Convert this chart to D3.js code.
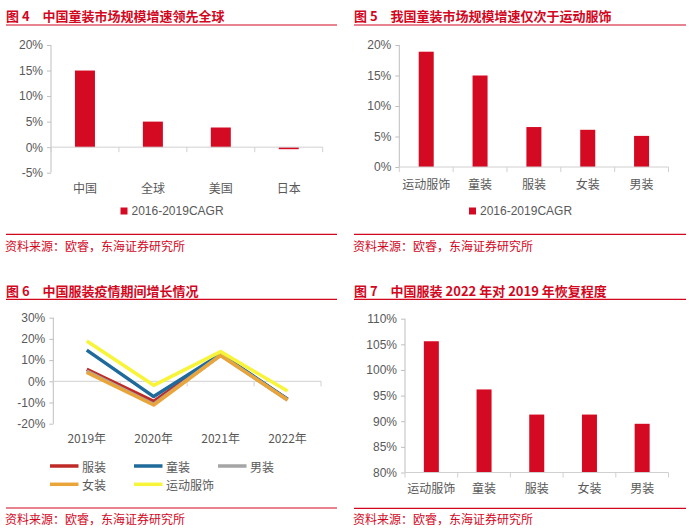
<!DOCTYPE html>
<html><head><meta charset="utf-8">
<script src="https://cdn.jsdelivr.net/npm/d3@7"></script>
<style>
body{margin:0;background:#fff;}
svg{display:block;font-family:"Liberation Sans",Arial,"Noto Sans CJK SC",sans-serif;}
.cjk{font-family:"Noto Sans CJK SC",sans-serif;}
</style></head><body>
<svg id="c" width="699" height="532"></svg>
<script>
// ---------- data ----------
const titles = ["图 4　中国童装市场规模增速领先全球","图 5　我国童装市场规模增速仅次于运动服饰","图 6　中国服装疫情期间增长情况","图 7　中国服装 2022 年对 2019 年恢复程度"];
const sourceText = "资料来源：欧睿，东海证券研究所";

const fig4Categories = ["中国","全球","美国","日本"];
const fig4Values = [15.0, 5.0, 3.85, -0.4];
const fig4Ticks = [-5,0,5,10,15,20];
const fig4Legend = "2016-2019CAGR";

const fig5Categories = ["运动服饰","童装","服装","女装","男装"];
const fig5Values = [18.9, 15.0, 6.55, 6.1, 5.1];
const fig5Ticks = [0,5,10,15,20];
const fig5Legend = "2016-2019CAGR";

const fig6Years = ["2019年","2020年","2021年","2022年"];
const fig6SeriesNames = ["服装","童装","男装","女装","运动服饰"];
const fig6Clothing = [5.6, -9.5, 12.6, -8.6];
const fig6Kids = [14.7, -7.2, 12.8, -8.4];
const fig6Men = [4.8, -10.8, 12.3, -8.8];
const fig6Women = [4.2, -11.2, 12.2, -8.8];
const fig6Sports = [19.0, -1.9, 14.0, -4.6];
const fig6Ticks = [-20,-10,0,10,20,30];

const fig7Categories = ["运动服饰","童装","服装","女装","男装"];
const fig7Values = [105.6, 96.2, 91.3, 91.3, 89.5];
const fig7Ticks = [80,85,90,95,100,105,110];

// ---------- style ----------
const RED = "#D2071E";
const BAR = "#D40A22";
const AXIS = "#BFBFBF";
const TXT = "#595959";
const lineColors = ["#BE2A26","#1E6A9A","#A5A5A5","#E9A53A","#F7F43A"];

const svg = d3.select("#c");

function frame(x0, x1, titleY, lineY, bottomY, srcY, title){
  svg.append("text").attr("class","cjk").attr("x",x0).attr("y",titleY)
    .attr("font-size",13).attr("font-weight",700).attr("fill",RED)
    .attr("dominant-baseline","central").text(title);
  svg.append("line").attr("x1",x0).attr("x2",x1).attr("y1",lineY).attr("y2",lineY)
    .attr("stroke",RED).attr("stroke-width",1.2);
  svg.append("line").attr("x1",x0).attr("x2",x1).attr("y1",bottomY).attr("y2",bottomY)
    .attr("stroke",RED).attr("stroke-width",1.2);
  svg.append("text").attr("class","cjk").attr("x",x0-1).attr("y",srcY)
    .attr("font-size",12).attr("fill",RED).attr("dominant-baseline","central").text(sourceText);
}

function yAxis(g, y, ticks, xAxis, fmt){
  const ax = d3.axisLeft(y).tickValues(ticks).tickSize(4).tickPadding(4).tickFormat(fmt);
  const a = g.append("g").attr("transform",`translate(${xAxis},0)`).call(ax);
  a.select(".domain").attr("stroke",AXIS).attr("d",`M0,${y(ticks[ticks.length-1])}V${y(ticks[0])}`);
  a.selectAll(".tick line").attr("stroke",AXIS);
  a.selectAll(".tick text").attr("fill",TXT).attr("font-size",12)
    .attr("font-family","'Liberation Sans',Arial,sans-serif");
}

function xAxisBand(g, x, yPos, tickLen){
  const dom = x.domain();
  const edges = dom.map(d=>x(d)).concat([x.range()[1]]);
  g.append("line").attr("x1",x.range()[0]).attr("x2",x.range()[1]).attr("y1",yPos).attr("y2",yPos)
    .attr("stroke","#D0D0D0").attr("stroke-width",1);
  g.selectAll(null).data(edges).enter().append("line")
    .attr("x1",d=>d).attr("x2",d=>d).attr("y1",yPos).attr("y2",yPos+tickLen)
    .attr("stroke","#D0D0D0");
}

function catLabels(g, x, labelY, cats){
  g.selectAll(null).data(cats).enter().append("text").attr("class","cjk")
    .attr("x",d=>x(d)+x.bandwidth()/2).attr("y",labelY)
    .attr("text-anchor","middle").attr("dominant-baseline","central")
    .attr("font-size",12).attr("fill",TXT).text(d=>d);
}

function barChart(o){
  const g = svg.append("g");
  const y = d3.scaleLinear().domain(o.domain).range(o.yRange);
  const x = d3.scaleBand().domain(o.cats).range(o.xRange);
  yAxis(g, y, o.ticks, o.xRange[0], d=>d+"%");
  g.selectAll(null).data(o.values).enter().append("rect")
    .attr("x",(d,i)=>x(o.cats[i])+x.bandwidth()/2-o.barW/2)
    .attr("width",o.barW)
    .attr("y",d=>Math.min(y(d),y(o.base)))
    .attr("height",d=>Math.abs(y(d)-y(o.base)))
    .attr("fill",BAR);
  xAxisBand(g, x, y(o.base), 5);
  catLabels(g, x, o.labelY, o.cats);
  if(o.legend){
    g.append("rect").attr("x",o.legendX).attr("y",o.legendY-3.5).attr("width",7).attr("height",7).attr("fill",BAR);
    g.append("text").attr("x",o.legendX+11).attr("y",o.legendY).attr("dominant-baseline","central")
      .attr("font-size",12).attr("fill",TXT).text(o.legend);
  }
}

// Figure 4
frame(6, 337, 15, 25, 234.3, 245, titles[0]);
barChart({cats:fig4Categories, values:fig4Values, ticks:fig4Ticks, domain:[-5,20], yRange:[172.7,45],
  xRange:[51,322.7], base:0, barW:20, labelY:187.5, legend:fig4Legend, legendX:120.5, legendY:211});

// Figure 5
frame(354, 686, 15, 25, 234.3, 245, titles[1]);
barChart({cats:fig5Categories, values:fig5Values, ticks:fig5Ticks, domain:[0,20], yRange:[167,45],
  xRange:[399.3,668.5], base:0, barW:15, labelY:183, legend:fig5Legend, legendX:469, legendY:211});

// Figure 7
frame(354, 686, 290, 299.3, 508.3, 518.5, titles[3]);
barChart({cats:fig7Categories, values:fig7Values, ticks:fig7Ticks, domain:[80,110], yRange:[472.5,318.7],
  xRange:[405,668.5], base:80, barW:15, labelY:487.5});

// Figure 6
frame(6, 337, 290, 299.3, 508, 518.5, titles[2]);
(function(){
  const g = svg.append("g");
  const y = d3.scaleLinear().domain([-20,30]).range([423.7,317.7]);
  const x = d3.scaleBand().domain(fig6Years).range([53.3,321]);
  yAxis(g, y, fig6Ticks, 53.3, d=>d+"%");
  xAxisBand(g, x, y(0), 5);
  catLabels(g, x, 437.7, fig6Years);
  const series = [fig6Clothing, fig6Kids, fig6Men, fig6Women, fig6Sports];
  const line = d3.line().x((d,i)=>x(fig6Years[i])+x.bandwidth()/2).y(d=>y(d));
  series.forEach((s,k)=>{
    g.append("path").datum(s).attr("d",line).attr("fill","none")
      .attr("stroke",lineColors[k]).attr("stroke-width",3.5).attr("stroke-linejoin","round");
  });
  const legPos = [[50,466],[134,466],[218,466],[50,484.3],[134,484.3]];
  fig6SeriesNames.forEach((n,k)=>{
    const [lx,ly] = legPos[k];
    g.append("line").attr("x1",lx).attr("x2",lx+28.5).attr("y1",ly).attr("y2",ly)
      .attr("stroke",lineColors[k]).attr("stroke-width",3.5);
    g.append("text").attr("class","cjk").attr("x",lx+32).attr("y",ly).attr("dominant-baseline","central")
      .attr("font-size",12).attr("fill",TXT).text(n);
  });
})();
</script>
</body></html>
